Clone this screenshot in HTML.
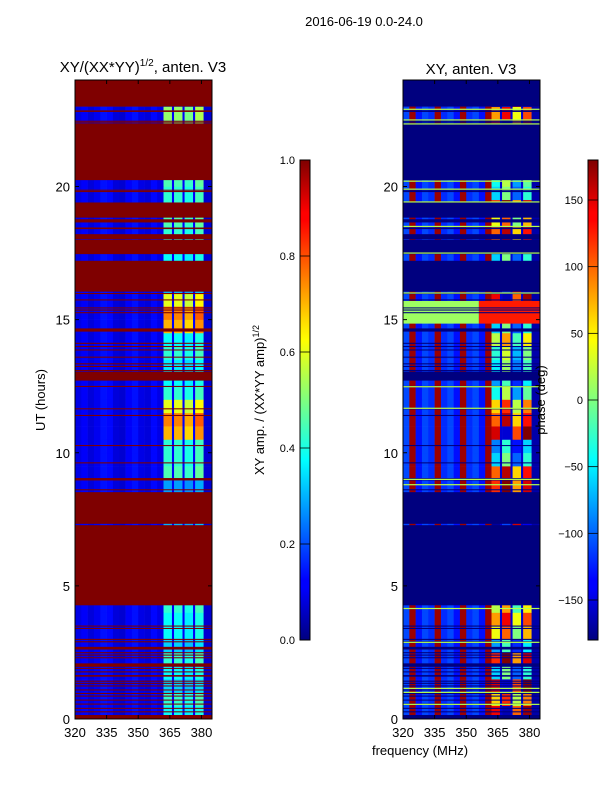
<!DOCTYPE html>
<html><head><meta charset="utf-8">
<style>
html,body{margin:0;padding:0;background:#fff;}
svg{display:block;font-family:"Liberation Sans","DejaVu Sans",sans-serif;}
</style></head>
<body>
<svg id="fig" width="600" height="800" viewBox="0 0 600 800" xmlns="http://www.w3.org/2000/svg">
<defs>
<linearGradient id="jetV" x1="0" y1="1" x2="0" y2="0">
<stop offset="0" stop-color="#00007f"/><stop offset="0.11" stop-color="#0000ff"/><stop offset="0.125" stop-color="#0000ff"/>
<stop offset="0.34" stop-color="#00dcff"/><stop offset="0.375" stop-color="#00ffff"/><stop offset="0.5" stop-color="#7fff7f"/>
<stop offset="0.625" stop-color="#ffff00"/><stop offset="0.66" stop-color="#ffe000"/><stop offset="0.875" stop-color="#ff0000"/><stop offset="0.89" stop-color="#ff0000"/><stop offset="1" stop-color="#7f0000"/>
</linearGradient>
</defs>
<text x="364" y="26" font-size="13" text-anchor="middle">2016-06-19 0.0-24.0</text>
<text x="143" y="72" font-size="15" text-anchor="middle">XY/(XX*YY)<tspan font-size="10" dy="-6">1/2</tspan><tspan dy="6">, anten. V3</tspan></text>
<text x="471" y="74" font-size="15" text-anchor="middle">XY, anten. V3</text>
<text transform="translate(45,400) rotate(-90)" font-size="13" text-anchor="middle">UT (hours)</text>
<text x="420" y="755" font-size="13" text-anchor="middle">frequency (MHz)</text>
<text transform="translate(264,400) rotate(-90)" font-size="13" text-anchor="middle">XY amp. / (XX*YY amp)<tspan font-size="9" dy="-5">1/2</tspan></text>
<g id="left"></g>
<g id="right"></g>
<g id="axes"></g>
<text transform="translate(545,400) rotate(-90)" font-size="13" text-anchor="middle">phase (deg)</text>
<rect x="300" y="160" width="10" height="480" fill="url(#jetV)" stroke="#000" stroke-width="1"/>
<rect x="588" y="160" width="10" height="480" fill="url(#jetV)" stroke="#000" stroke-width="1"/>
<g id="cbticks"></g>
</svg>
<script>
// ---- data ----
const chanEdges = [320,323,326,329,332,335,338,341,344,347,350,353,356,359,362,366,367,371,372,376,377,381,385];
const chanKind = [0,0,0,0,0,0,0,0,0,0,0,0,0,0,1,2,1,2,1,2,1,3];
const ampLow = [0.1,0.12,0.09,0.11,0.14,0.13,0.09,0.08,0.12,0.14,0.1,0.09,0.13,0.1];
const bandFactor = [1.0,1.0,0.95,1.05];
const ampHotRow = [0.38,0.42,0.33,0.38,0.42,0.33,0.38,0.38,0.42,
  0.3,0.3,0.3,0.3,0.3,0.3,0.3,0.3,
  0.28,0.45,0.42,0.42,0.7,0.75,0.6,0.42,0.38,0.36,0.42,0.38,0.7,0.75,0.6,
  0.3,0.3,0.38,0.3,0.42,0.45,0.42,0.42,0.45,0.3,0.3,0.3,0.48,0.52,0.3,0.3];
const phaseLow = [-110,170,-130,-110,-120,170,-120,-110,-130,170,-120,-110,-130,170];
const bandOffset = [0,60,-40,30];
const phaseHotRow = [140,60,150,-60,120,-80,40,80,20,
  -170,-170,-170,-170,-170,-170,-170,-170,
  120,100,-60,-90,150,100,60,-40,-80,-50,-30,20,-60,130,140,
  -170,-170,-60,-170,100,40,120,-60,-40,-170,-170,-170,130,80,-170,-170];
const flags = [[23.0,24.0],[22.8,22.86],[22.43,22.47],[22.38,22.41],[20.24,22.36],[19.84,19.88],[19.79,19.83],[18.83,19.4],
  [18.65,18.77],[18.4,18.46],[18.02,18.21],[17.46,18.0],[16.05,17.21],[15.96,16.0],[15.72,15.76],[15.42,15.46],[15.34,15.38],[15.24,15.28],
  [14.55,14.67],[14.09,14.13],[13.97,14.01],[13.84,13.88],[13.57,13.61],[13.32,13.36],[13.22,13.26],[13.07,13.11],[12.71,13.05],[12.47,12.51],
  [11.63,11.67],[11.38,11.42],[10.25,10.29],[9.6,9.64],[8.96,9.05],[8.59,8.63],[7.33,8.52],[4.27,7.28],
  [3.47,3.51],[3.38,3.42],[2.97,3.01],[2.88,2.92],[2.61,2.71],[2.47,2.51],[2.38,2.42],[2.28,2.32],[1.96,2.09],[1.88,1.92],
  [1.75,1.79],[1.59,1.65],[1.40,1.44],[1.32,1.36],[1.22,1.26],[1.07,1.11],[0.94,0.98],[0.84,0.88],[0.69,0.73],[0.54,0.58],
  [0.38,0.42],[0.25,0.29],[0.0,0.15]];
const greenBands = [[14.85,15.7]];
const greenLines = [22.9,22.5,22.35,20.2,19.9,19.42,18.5,17.5,16.0,12.48,11.67,9.0,8.8,4.15,2.88,1.15,1.0,0.55];
const xTicks = [320,335,350,365,380];
const yTicks = [0,5,10,15,20];
const ampTicks = [0.0,0.2,0.4,0.6,0.8,1.0];
const phaseTicks = [-150,-100,-50,0,50,100,150];

// ---- scales ----
const NS='http://www.w3.org/2000/svg';
const PW=137, PT=80, PB=719;
function xs(f,x0){return x0+(f-320)*PW/65;}
function ys(h){return PB-h*(PB-PT)/24;}
function jet(v){v=Math.max(0,Math.min(1,v));
  const c=t=>Math.round(255*Math.max(0,Math.min(1,1.5-Math.abs(4*v-t))));
  return `rgb(${c(3)},${c(2)},${c(1)})`;}
function mk(tag,attrs,parent){const e=document.createElementNS(NS,tag);for(const k in attrs)e.setAttribute(k,attrs[k]);parent.appendChild(e);return e;}
const L=document.getElementById('left'), R=document.getElementById('right'), A=document.getElementById('axes'), CB=document.getElementById('cbticks');
const nRows=ampHotRow.length, dh=24/nRows;
function bandIdx(c){let b=-1;for(let i=0;i<=c;i++)if(chanKind[i]===1)b++;return b;}
for(let t=0;t<nRows;t++){
  const y0=ys((t+1)*dh), y1=ys(t*dh);
  for(let c=0;c<chanKind.length;c++){
    const k=chanKind[c];
    let a,p;
    if(k===0){a=ampLow[c];p=phaseLow[c];}
    else if(k===1){const b=bandIdx(c);a=ampHotRow[t]*bandFactor[b];p=phaseHotRow[t]+bandOffset[b];if(p>180)p-=360;if(p<-180)p+=360;}
    else if(k===2){a=0.12;p=-150;}
    else {a=0.08;p=-165;}
    const r1=mk('rect',{x:xs(chanEdges[c],75),y:y0,width:xs(chanEdges[c+1],75)-xs(chanEdges[c],75)+0.3,height:y1-y0+0.3,fill:jet(a)},L);
    
    
    const r2=mk('rect',{x:xs(chanEdges[c],403),y:y0,width:xs(chanEdges[c+1],403)-xs(chanEdges[c],403)+0.3,height:y1-y0+0.3,fill:jet((p+180)/360)},R);
    
    
  }
}
greenBands.forEach(g=>{
  const r=mk('rect',{x:403,y:ys(g[1]),width:xs(356,403)-403,height:ys(g[0])-ys(g[1]),fill:jet(0.53)},R);
  
  
  const r3=mk('rect',{x:xs(356,403),y:ys(g[1]),width:xs(385,403)-xs(356,403),height:ys(g[0])-ys(g[1]),fill:jet(0.85)},R);
  
  
});
flags.forEach(f=>{
  const y0=ys(f[1]), h=Math.max(1,ys(f[0])-y0);
  const a=mk('rect',{x:75,y:y0,width:PW,height:h,fill:'#7f0000'},L);
  
  
  const b=mk('rect',{x:403,y:y0,width:PW,height:h,fill:'#00007f'},R);
  
  
});
greenLines.forEach(h=>{
  const l=mk('rect',{x:403,y:ys(h)-0.6,width:PW,height:1.2,fill:jet(0.55)},R);
  
  
});
[75,403].forEach(x0=>{
  const fr=mk('rect',{x:x0,y:PT,width:PW,height:PB-PT,fill:'none',stroke:'#000','stroke-width':1},A);
  
  
  xTicks.forEach(v=>{const x=xs(v,x0);
    mk('line',{x1:x,y1:PB,x2:x,y2:PB-4,stroke:'#000'},A);
    mk('line',{x1:x,y1:PT,x2:x,y2:PT+4,stroke:'#000'},A);
    const t=mk('text',{x:x,y:737,'font-size':13,'text-anchor':'middle'},A);t.textContent=v;
    
    
  });
  yTicks.forEach(v=>{const y=ys(v);
    mk('line',{x1:x0,y1:y,x2:x0+4,y2:y,stroke:'#000'},A);
    mk('line',{x1:x0+PW,y1:y,x2:x0+PW-4,y2:y,stroke:'#000'},A);
    const t=mk('text',{x:x0-5,y:y+5,'font-size':13,'text-anchor':'end'},A);t.textContent=v;
    
    
  });
});
ampTicks.forEach(v=>{const y=640-v*480;
  mk('line',{x1:300,y1:y,x2:310,y2:y,stroke:'#000','stroke-width':0.8},CB);
  const t=mk('text',{x:295,y:y+4,'font-size':11,'text-anchor':'end'},CB);t.textContent=v.toFixed(1);
  
  
});
phaseTicks.forEach(v=>{const y=640-(v+180)/360*480;
  mk('line',{x1:588,y1:y,x2:598,y2:y,stroke:'#000','stroke-width':0.8},CB);
  const t=mk('text',{x:583,y:y+4,'font-size':11,'text-anchor':'end'},CB);t.textContent=(v<0?'\u2212'+Math.abs(v):v);
  
  
});
</script>
</body></html>
